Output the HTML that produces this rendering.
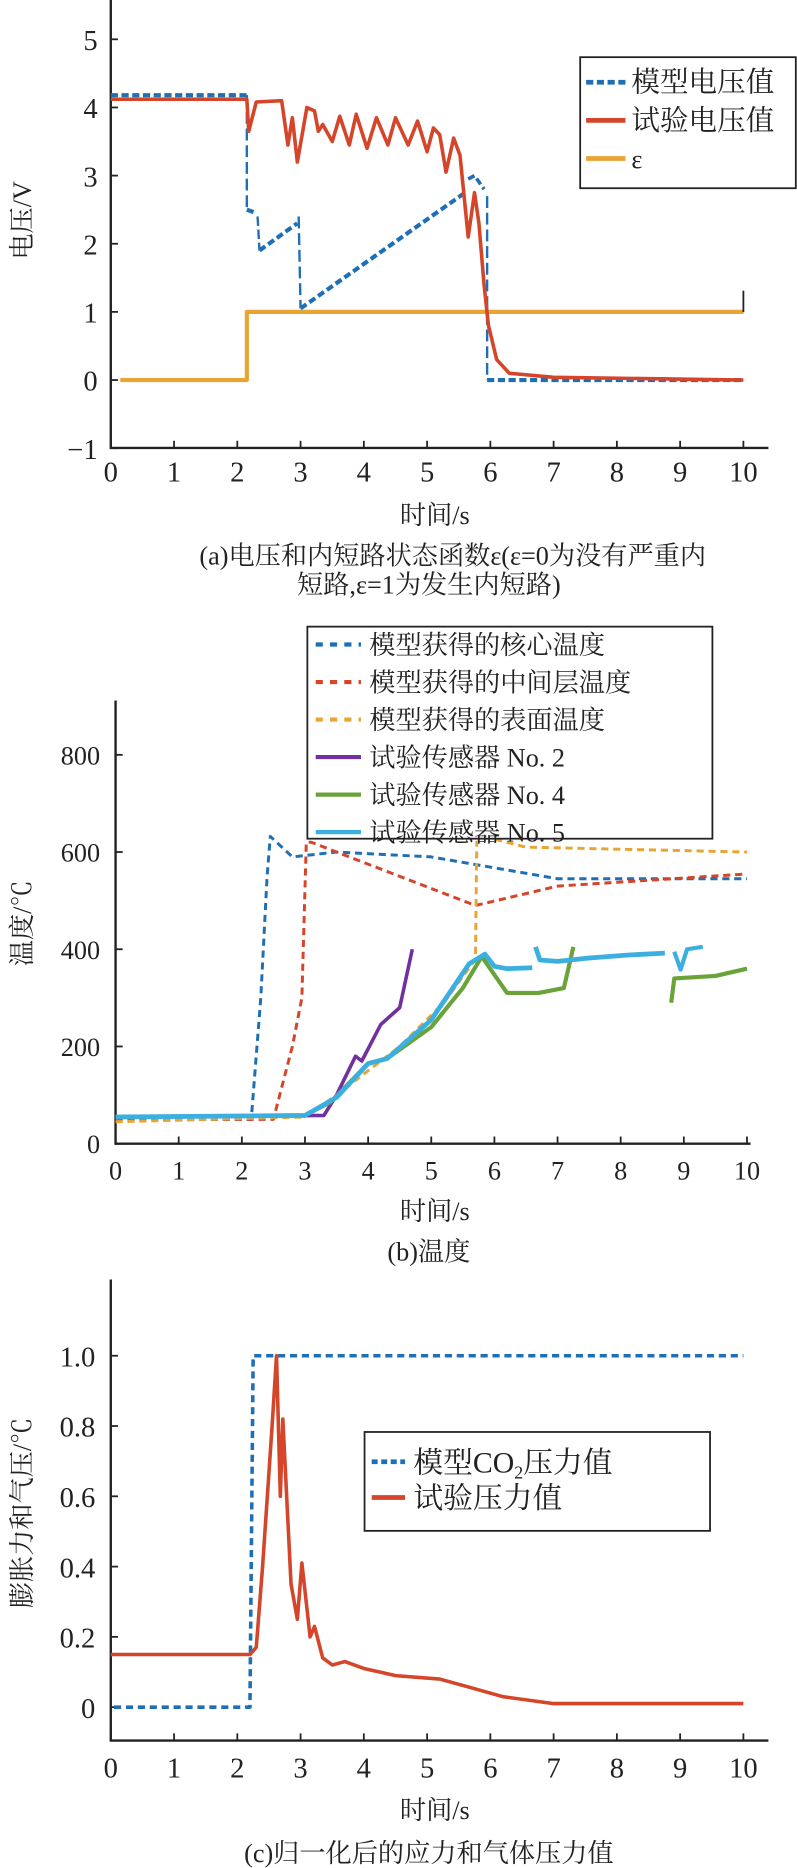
<!DOCTYPE html>
<html><head><meta charset="utf-8"><style>
html,body{margin:0;padding:0;background:#fff;}
svg{display:block;}
text{font-family:"Liberation Serif","Noto Serif CJK SC",serif;fill:#222;}
</style></head><body>
<svg id="s" width="797" height="1868" viewBox="0 0 669 1568" preserveAspectRatio="none" xmlns="http://www.w3.org/2000/svg">
<rect width="669" height="1568" fill="#fff"/>
<g id="g"></g>
</svg>
<script>
const g=document.getElementById('g');let h='';
function P(pts,fx,fy){return pts.map((p,i)=>(i?'L':'M')+fx(p[0]).toFixed(1)+' '+fy(p[1]).toFixed(1)).join(' ');}
function line(d,c,w,da){h+=`<path d="${d}" fill="none" stroke="${c}" stroke-width="${w}" ${da?`stroke-dasharray="${da}"`:''} stroke-linejoin="round"/>`;}
function txt(x,y,s,t,anc,extra){h+=`<text x="${x}" y="${y}" font-size="${s}" text-anchor="${anc||'middle'}" ${extra||''}>${t}</text>`;}
const B='#1f6fb5',R='#d4452a',O='#e8a533',PU='#7030a0',GR='#6aa33a',LB='#3bb0e0';
// ---------- Chart A ----------
let ax=t=>93+53.1*t, ay=v=>319-57.2*v;
h+=`<path d="M93 0 V376 H645" fill="none" stroke="#222" stroke-width="2"/>`;
for(let i=0;i<=10;i++){h+=`<line x1="${ax(i)}" y1="376" x2="${ax(i)}" y2="370" stroke="#222" stroke-width="1.5"/>`;txt(ax(i),404,24,i);}
for(let v=-1;v<=5;v++){h+=`<line x1="93" y1="${ay(v)}" x2="99" y2="${ay(v)}" stroke="#222" stroke-width="1.5"/>`;txt(82,ay(v)+9,24,v<0?'−1':v,'end');}
txt(18,185,22,'电压/V','middle','transform="rotate(-90 18 185)" dy="8"');
txt(365,440,22,'时间/s');
txt(380,474,22,'(a)电压和内短路状态函数ε(ε=0为没有严重内');
txt(360,498,22,'短路,ε=1为发生内短路)');
line(P([[0.15,0],[2.15,0],[2.15,1],[10,1]],ax,ay),O,3.5);
h+=`<line x1="624" y1="262" x2="624" y2="244" stroke="#222" stroke-width="1.5"/>`;
line(P([[0,4.18],[2.15,4.18]],ax,ay),B,3.5,'6 3');
line(P([[2.15,4.18],[2.15,2.5]],ax,ay),B,2,'10 4');
line(P([[2.15,2.5],[2.3,2.45]],ax,ay),B,3.5,'6 3');
line(P([[2.32,2.4],[2.35,1.9]],ax,ay),B,2,'8 3');
line(P([[2.35,1.9],[2.95,2.3]],ax,ay),B,3.5,'6 3');
line(P([[2.97,2.4],[3.0,1.05]],ax,ay),B,2,'10 4');
line(P([[3.0,1.05],[5.6,2.75]],ax,ay),B,3.5,'6 3');
line(P([[5.65,2.95],[5.75,3.0],[5.9,2.8]],ax,ay),B,3,'6 3');
line(P([[5.95,2.7],[5.95,0]],ax,ay),B,2,'10 4');
line(P([[5.95,0],[10,0]],ax,ay),B,3.5,'6 3');
line(P([[0,4.12],[2.15,4.12],[2.18,3.65],[2.3,4.08],[2.7,4.1],[2.8,3.45],[2.87,3.85],[2.95,3.2],[3.1,4.0],[3.22,3.95],[3.28,3.65],[3.35,3.75],[3.5,3.5],[3.62,3.87],[3.77,3.45],[3.88,3.9],[4.05,3.4],[4.2,3.85],[4.38,3.45],[4.5,3.85],[4.7,3.45],[4.85,3.8],[5.0,3.35],[5.1,3.7],[5.2,3.6],[5.3,3.05],[5.42,3.55],[5.52,3.3],[5.65,2.1],[5.75,2.75],[5.82,2.3],[5.9,1.4],[5.97,0.8],[6.1,0.3],[6.3,0.1],[7,0.04],[10,0.0]],ax,ay),R,3);
h+=`<rect x="487" y="48" width="181" height="110" fill="#fff" stroke="#222" stroke-width="1.5"/>`;
line('M492 69 H525',B,4,'6 3');line('M492 101 H525',R,4);line('M492 133 H525',O,4);
txt(530,77,24,'模型电压值','start');txt(530,109,24,'试验电压值','start');txt(530,141,22,'ε','start');
// ---------- Chart B ----------
let bx=t=>97+53*t, by=T=>960-0.408*T;
h+=`<path d="M97 588 V960 H630" fill="none" stroke="#222" stroke-width="2"/>`;
for(let i=0;i<=10;i++){h+=`<line x1="${bx(i)}" y1="960" x2="${bx(i)}" y2="954" stroke="#222" stroke-width="1.5"/>`;txt(bx(i),990,22,i);}
for(let v=0;v<=800;v+=200){h+=`<line x1="97" y1="${by(v)}" x2="103" y2="${by(v)}" stroke="#222" stroke-width="1.5"/>`;txt(84,by(v)+8,22,v,'end');}
txt(18,775,22,'温度/℃','middle','transform="rotate(-90 18 775)" dy="8"');
txt(365,1024,22,'时间/s');
txt(360,1058,22,'(b)温度');
line(P([[0,50],[2.15,50],[2.3,300],[2.4,550],[2.45,632],[2.8,590],[3.5,600],[5,590],[7,545],[10,545]],bx,by),B,2.5,'6 4');
line(P([[0,50],[2.5,50],[2.8,200],[2.95,300],[3.02,620],[3.1,620],[5.7,490],[7,530],[10,555]],bx,by),R,2.5,'6 4');
line(P([[0,45],[3,55],[3.5,100],[4.5,200],[5.2,290],[5.7,380],[5.72,620],[5.9,630],[6.5,610],[10,600]],bx,by),O,2.5,'6 4');
line(P([[0,55],[3.3,58],[3.5,100],[3.8,180],[3.9,170],[4.2,245],[4.5,280],[4.7,400]],bx,by),PU,3);
line(P([[0,55],[3,58],[3.4,85],[4,165],[4.3,175],[5,240],[5.5,320],[5.8,385],[6.2,310],[6.7,310],[7.1,320],[7.25,405]],bx,by),GR,3.5);
line(P([[8.8,290],[8.85,340],[9.5,345],[10,360]],bx,by),GR,3.5);
line(P([[0,55],[3,58],[3.5,95],[4,165],[4.3,175],[5,255],[5.6,370],[5.85,390],[6,365],[6.2,360],[6.6,362]],bx,by),LB,4);
line(P([[6.65,405],[6.72,378],[7,375],[7.5,382],[8.1,388],[8.7,392]],bx,by),LB,4);
line(P([[8.85,395],[8.95,358],[9.05,400],[9.3,405]],bx,by),LB,3.5);
h+=`<rect x="258" y="526" width="340" height="178" fill="#fff" stroke="#222" stroke-width="1.5"/>`;
const lb=[[B,'模型获得的核心温度',1],[R,'模型获得的中间层温度',1],[O,'模型获得的表面温度',1],[PU,'试验传感器 No. 2',0],[GR,'试验传感器 No. 4',0],[LB,'试验传感器 No. 5',0]];
lb.forEach((e,i)=>{let y=541+31.5*i;line(`M265 ${y} H303`,e[0],3.5,e[2]?'6 6':'');txt(310,y+8,22,e[1],'start');});
// ---------- Chart C ----------
let cx=t=>93+53.1*t, cy=v=>1433-295*v;
h+=`<path d="M93 1074 V1461 H645" fill="none" stroke="#222" stroke-width="2"/>`;
for(let i=0;i<=10;i++){h+=`<line x1="${cx(i)}" y1="1461" x2="${cx(i)}" y2="1455" stroke="#222" stroke-width="1.5"/>`;txt(cx(i),1492,24,i);}
['0','0.2','0.4','0.6','0.8','1.0'].forEach((l,i)=>{let y=cy(i*0.2);h+=`<line x1="93" y1="${y}" x2="99" y2="${y}" stroke="#222" stroke-width="1.5"/>`;txt(80,y+9,24,l,'end');});
txt(18,1270,22,'膨胀力和气压/℃','middle','transform="rotate(-90 18 1270)" dy="8"');
txt(365,1527,22,'时间/s');
txt(360,1563,22,'(c)归一化后的应力和气体压力值');
line(P([[0.05,0],[2.2,0],[2.25,1],[10,1]],cx,cy),B,3,'6 4');
line(P([[0,0.15],[2.2,0.15],[2.3,0.17],[2.4,0.4],[2.55,0.8],[2.62,1.0],[2.68,0.6],[2.72,0.82],[2.85,0.35],[2.95,0.25],[3.02,0.41],[3.15,0.2],[3.22,0.23],[3.35,0.14],[3.5,0.12],[3.7,0.13],[4,0.11],[4.5,0.09],[5.2,0.08],[5.6,0.06],[6.2,0.03],[7,0.01],[10,0.01]],cx,cy),R,3);
h+=`<rect x="306" y="1202" width="290" height="83" fill="#fff" stroke="#222" stroke-width="1.5"/>`;
line('M312 1227 H340',B,4,'5 3');line('M312 1257 H340',R,4);
txt(347,1236,25,'模型CO<tspan font-size="15" dy="5">2</tspan><tspan dy="-5">压力值</tspan>','start');
txt(347,1266,25,'试验压力值','start');
g.innerHTML=h;
</script>
</body></html>
